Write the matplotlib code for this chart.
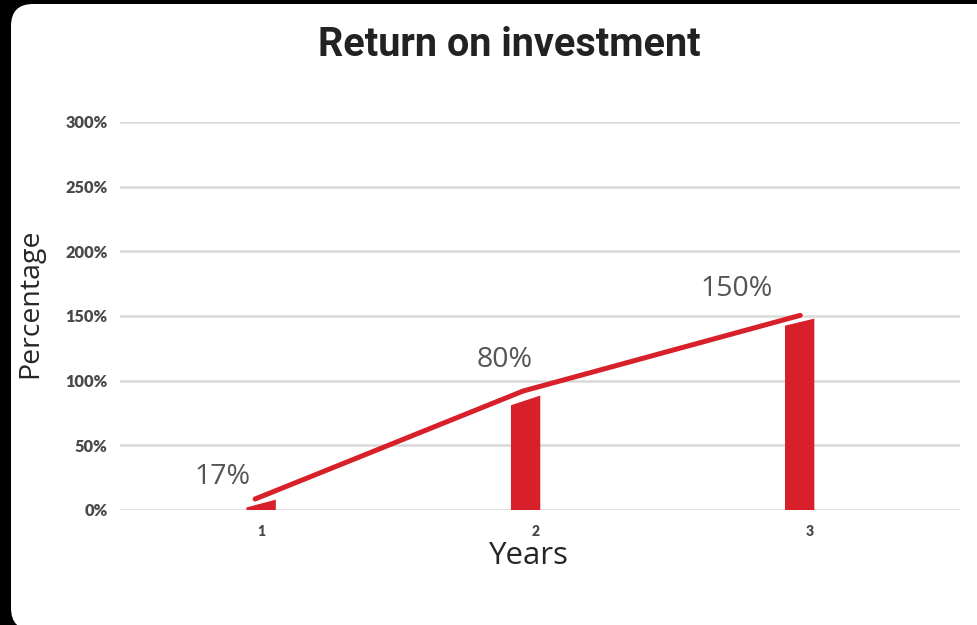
import matplotlib
matplotlib.use("Agg")
import matplotlib.pyplot as plt
from matplotlib.patches import FancyBboxPatch, Polygon
from matplotlib.transforms import IdentityTransform

# ---- data ----
years = [1, 2, 3]
value_labels = ["17%", "80%", "150%"]
line_vals = [8.5, 92, 150.5]
bar_top_left = [2, 81, 142.5]
bar_top_right = [8, 88.5, 148]
y_ticks = [0, 50, 100, 150, 200, 250, 300]
y_tick_labels = ["0%", "50%", "100%", "150%", "200%", "250%", "300%"]

# ---- style ----
RED = "#D7202A"
GRID = "#D9D9D9"
line_shift = [-0.022, -0.044, -0.033]
bar_shift = [0.0, -0.035, -0.035]
bar_width = 0.107
label_offsets = [(-3, 6), (-13, 12), (-20, 9)]  # points
label_ha = ["right", "center", "right"]

W, H, DPI = 978, 625, 100
fig = plt.figure(figsize=(W / DPI, H / DPI), dpi=DPI, facecolor="black")

bg = FancyBboxPatch((11, -5), 1000, 626, boxstyle="round,pad=0,rounding_size=22",
                    transform=IdentityTransform(), facecolor="white", edgecolor="none",
                    zorder=-10)
fig.patches.append(bg)

ax = fig.add_axes([120 / W, (H - 510) / H, 840 / W, 388 / H])
ax.set_facecolor("none")
ax.set_xlim(0.485, 3.55)
ax.set_ylim(0, 300)
for s in ax.spines.values():
    s.set_visible(False)

ax.set_yticks(y_ticks)
ax.set_yticklabels(y_tick_labels, fontfamily="Lato", fontweight="heavy",
                   fontsize=11.8, color="#4A4A4A")
ax.set_xticks(years)
ax.set_xticklabels([str(y) for y in years], fontfamily="Lato", fontweight="heavy",
                   fontsize=10, color="#4A4A4A")
ax.tick_params(axis="both", length=0)
ax.tick_params(axis="y", pad=9)
ax.tick_params(axis="x", pad=11)
ax.yaxis.grid(True, color=GRID, linewidth=1.8)
ax.set_axisbelow(True)

for x, sh, yl, yr in zip(years, bar_shift, bar_top_left, bar_top_right):
    xc = x + sh
    poly = Polygon([(xc - bar_width / 2, 0), (xc + bar_width / 2, 0),
                    (xc + bar_width / 2, yr), (xc - bar_width / 2, yl)],
                   closed=True, facecolor=RED, edgecolor="none", zorder=3,
                   clip_on=False)
    ax.add_patch(poly)

lx = [x + sh for x, sh in zip(years, line_shift)]
ax.plot(lx, line_vals, color=RED, linewidth=3.6, solid_capstyle="round",
        solid_joinstyle="round", zorder=4, clip_on=False)

for x, y, lab, off, ha in zip(lx, line_vals, value_labels, label_offsets, label_ha):
    ax.annotate(lab, (x, y), xytext=off, textcoords="offset points",
                ha=ha, va="bottom",
                fontsize=20.5, color="#555555", fontfamily="Open Sans")

ax.set_xlabel("Years", fontfamily="Open Sans", fontsize=22.5, color="#262626")
ax.xaxis.set_label_coords((529 - 120) / 840, -0.08)
ax.set_ylabel("Percentage", fontfamily="Open Sans", fontsize=20.5, color="#262626")
ax.yaxis.set_label_coords((44 - 120) / 840, (510 - 303) / 388)

fig.text(509 / W, 1 - 45 / H, "Return on investment",
         fontfamily=["Roboto"], fontweight="bold",
         fontsize=28.5, color="#222222", ha="center", va="center")

fig.savefig("out.png", dpi=DPI, facecolor="black")
